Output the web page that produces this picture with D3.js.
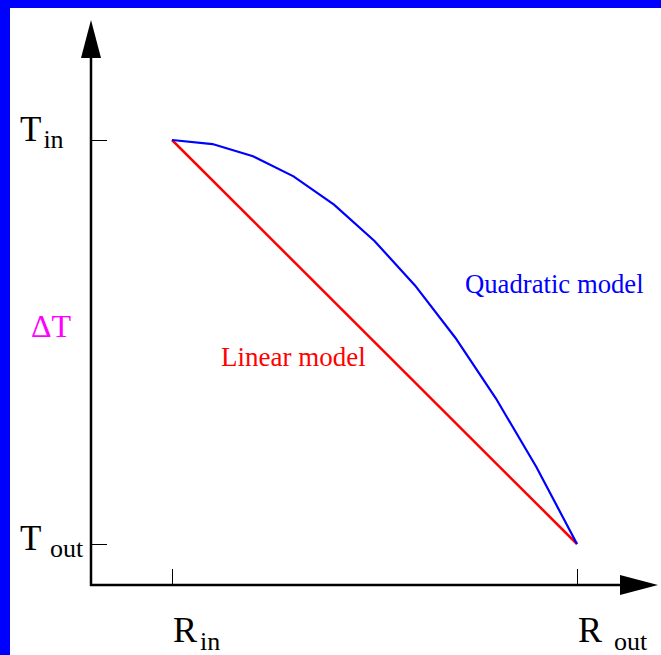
<!DOCTYPE html>
<html>
<head>
<meta charset="utf-8">
<script src="https://cdn.jsdelivr.net/npm/d3@7"></script>
<style>
    html, body { margin: 0; padding: 0; background: #ffffff; }
    svg { display: block; }
</style>
</head>
<body>
<div id="data-viz"></div>
<script>
// radius runs from R_in (0) to R_out (1), temperature from T_out (0) to T_in (1)
const radiusSteps = [0, 0.1, 0.2, 0.3, 0.4, 0.5, 0.6, 0.7, 0.8, 0.9, 1]
const quadraticTemps = [1, 0.99, 0.96, 0.91, 0.84, 0.75, 0.64, 0.51, 0.36, 0.19, 0]
const linearRadius = [0, 1]
const linearTemps = [1, 0]
const yTickValues = [1, 0]
const yTickNames = [["T", "in"], ["T", " out"]]
const xTickValues = [0, 1]
const xTickNames = [["R", "in"], ["R", "out"]]

function drawChart() {

    const dimensions = {
        width: 661,
        height: 655,
        border: { left: 10, top: 8 },
        axisX: 91,
        axisY: 585,
        arrowTopY: 20,
        arrowRightX: 658,
        arrowLength: 38,
        arrowHalf: 10,
        tickLength: 16,
    }

    const svg = d3.select("#data-viz")
        .append("svg")
        .attr("width", dimensions.width)
        .attr("height", dimensions.height)

    svg.append("rect")
        .attr("width", dimensions.width)
        .attr("height", dimensions.height)
        .attr("fill", "#0000ff")
    svg.append("rect")
        .attr("x", dimensions.border.left)
        .attr("y", dimensions.border.top)
        .attr("width", dimensions.width - dimensions.border.left)
        .attr("height", dimensions.height - dimensions.border.top)
        .attr("fill", "#ffffff")

    // scales
    const xScale = d3.scaleLinear().domain([0, 1]).range([172, 577])
    const yScale = d3.scaleLinear().domain([0, 1]).range([544, 140])

    // axes with arrowheads
    const axes = svg.append("g").attr("fill", "#000").attr("stroke", "#000")
    axes.append("line")
        .attr("x1", dimensions.axisX).attr("x2", dimensions.axisX)
        .attr("y1", dimensions.axisY + 1).attr("y2", dimensions.arrowTopY + dimensions.arrowLength)
        .attr("stroke-width", 2.5)
    axes.append("line")
        .attr("x1", dimensions.axisX - 1).attr("x2", dimensions.arrowRightX - dimensions.arrowLength)
        .attr("y1", dimensions.axisY).attr("y2", dimensions.axisY)
        .attr("stroke-width", 2.5)
    axes.append("path")
        .attr("stroke", "none")
        .attr("d", d3.line()([
            [dimensions.axisX, dimensions.arrowTopY],
            [dimensions.axisX + dimensions.arrowHalf, dimensions.arrowTopY + dimensions.arrowLength],
            [dimensions.axisX - dimensions.arrowHalf, dimensions.arrowTopY + dimensions.arrowLength]
        ]) + "Z")
    axes.append("path")
        .attr("stroke", "none")
        .attr("d", d3.line()([
            [dimensions.arrowRightX, dimensions.axisY],
            [dimensions.arrowRightX - dimensions.arrowLength, dimensions.axisY - dimensions.arrowHalf],
            [dimensions.arrowRightX - dimensions.arrowLength, dimensions.axisY + dimensions.arrowHalf]
        ]) + "Z")

    // ticks
    axes.selectAll(".y-tick")
        .data(yTickValues)
        .join("line")
            .attr("class", "y-tick")
            .attr("x1", dimensions.axisX).attr("x2", dimensions.axisX + dimensions.tickLength)
            .attr("y1", d => Math.round(yScale(d)) + 0.5).attr("y2", d => Math.round(yScale(d)) + 0.5)
            .attr("stroke-width", 1)
    axes.selectAll(".x-tick")
        .data(xTickValues)
        .join("line")
            .attr("class", "x-tick")
            .attr("x1", d => Math.round(xScale(d)) + 0.5).attr("x2", d => Math.round(xScale(d)) + 0.5)
            .attr("y1", dimensions.axisY).attr("y2", dimensions.axisY - dimensions.tickLength)
            .attr("stroke-width", 1)

    // tick labels with subscripts
    const labelFont = "'Liberation Serif', 'Times New Roman', serif"
    const yLabels = svg.selectAll(".y-label")
        .data(yTickValues)
        .join("text")
            .attr("class", "y-label")
            .attr("font-family", labelFont)
            .attr("fill", "#000")
            .attr("x", 20)
            .attr("y", d => yScale(d) + 1 + (d === 0 ? 5 : 0))
    yLabels.append("tspan")
        .attr("font-size", 35)
        .text((d, i) => yTickNames[i][0])
    yLabels.append("tspan")
        .attr("font-size", 26)
        .attr("dx", 2)
        .attr("dy", 7)
        .text((d, i) => yTickNames[i][1])

    const xLabels = svg.selectAll(".x-label")
        .data(xTickValues)
        .join("text")
            .attr("class", "x-label")
            .attr("font-family", labelFont)
            .attr("fill", "#000")
            .attr("y", 642)
    xLabels.append("tspan")
        .attr("font-size", 36)
        .attr("x", d => xScale(d) + 1)
        .text((d, i) => xTickNames[i][0])
    xLabels.append("tspan")
        .attr("font-size", 26)
        .attr("x", (d, i) => xScale(d) + (i === 0 ? 28 : 37))
        .attr("dy", 8)
        .text((d, i) => xTickNames[i][1])

    svg.append("text")
        .attr("font-family", labelFont)
        .attr("font-size", 32)
        .attr("fill", "#ff00ff")
        .attr("x", 31)
        .attr("y", 337)
        .text("\u0394T")

    // data
    const lineGen = d3.line()
        .x(d => xScale(d[0]))
        .y(d => yScale(d[1]))

    svg.append("path")
        .attr("d", lineGen(d3.zip(linearRadius, linearTemps)))
        .attr("fill", "none")
        .attr("stroke", "#ff0000")
        .attr("stroke-width", 2.5)

    svg.append("path")
        .attr("d", lineGen(d3.zip(radiusSteps, quadraticTemps)))
        .attr("fill", "none")
        .attr("stroke", "#0000ff")
        .attr("stroke-width", 2.2)

    svg.append("text")
        .attr("font-family", labelFont)
        .attr("font-size", 26.7)
        .attr("fill", "#0000ff")
        .attr("x", 465)
        .attr("y", 293)
        .text("Quadratic model")

    svg.append("text")
        .attr("font-family", labelFont)
        .attr("font-size", 27)
        .attr("fill", "#ff0000")
        .attr("x", 221)
        .attr("y", 366)
        .text("Linear model")
}

drawChart()
</script>
</body>
</html>
